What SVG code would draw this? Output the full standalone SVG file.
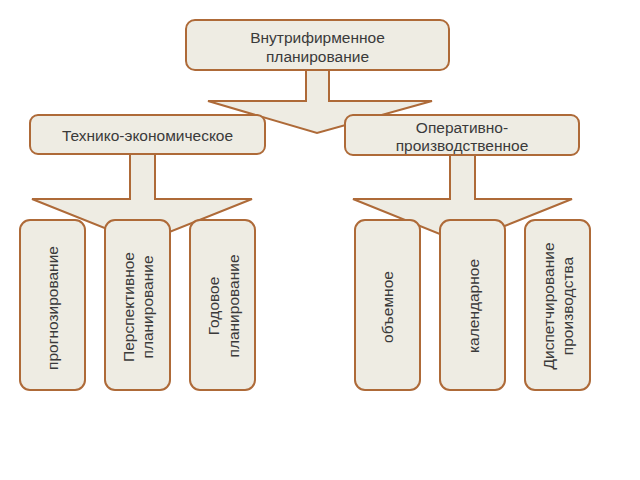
<svg xmlns="http://www.w3.org/2000/svg" width="640" height="480" viewBox="0 0 640 480">
<style>
.box{fill:#EEECE3;stroke:#AE6A38;stroke-width:2}
.arrow{fill:#EEECE3;stroke:#AE6A38;stroke-width:2;stroke-linejoin:miter}
text{font-family:"Liberation Sans",Arial,sans-serif;font-size:15.5px;fill:#3A3A3A;text-anchor:middle}
</style>
<rect width="640" height="480" fill="#FFFFFF"/>
<g id="connectors">
<polygon class="arrow" points="306,70 329,70 329,101 432,101 317,133 208,101 306,101"/>
<polygon class="arrow" points="130,154 155,154 155,199 252,199 142,243 32,199 130,199"/>
<polygon class="arrow" points="450,154 475,154 475,199 572,199 462,243 353,199 450,199"/>
</g>
<g id="node-top">
<rect class="box" x="186" y="20" width="263" height="50" rx="9"/>
<text x="317.5" y="42.5">Внутрифирменное</text>
<text x="317.5" y="61.5">планирование</text>
</g>
<g id="node-tech">
<rect class="box" x="30" y="115" width="235" height="39" rx="8"/>
<text x="147.5" y="140.5">Технико-экономическое</text>
</g>
<g id="node-oper">
<rect class="box" x="345" y="115" width="234" height="40" rx="8"/>
<text x="462" y="133">Оперативно-</text>
<text x="462" y="151">производственное</text>
</g>
<g id="node-prognoz">
<rect class="box" x="20" y="220" width="65" height="170" rx="10"/>
<text transform="translate(52.5,308) rotate(-90)" y="5">прогнозирование</text>
</g>
<g id="node-perspekt">
<rect class="box" x="105" y="220" width="65" height="170" rx="10"/>
<text transform="translate(137.5,307) rotate(-90)" y="-4">Перспективное</text>
<text transform="translate(137.5,307) rotate(-90)" y="15">планирование</text>
</g>
<g id="node-godovoe">
<rect class="box" x="190" y="220" width="65" height="170" rx="10"/>
<text transform="translate(222.5,306) rotate(-90)" y="-4">Годовое</text>
<text transform="translate(222.5,306) rotate(-90)" y="16">планирование</text>
</g>
<g id="node-obemnoe">
<rect class="box" x="355" y="220" width="65" height="170" rx="10"/>
<text transform="translate(387.5,307) rotate(-90)" y="5">объемное</text>
</g>
<g id="node-kalend">
<rect class="box" x="440" y="220" width="65" height="170" rx="10"/>
<text transform="translate(472.5,306) rotate(-90)" y="6">календарное</text>
</g>
<g id="node-dispetch">
<rect class="box" x="525" y="220" width="65" height="170" rx="10"/>
<text transform="translate(557.5,306) rotate(-90)" y="-4">Диспетчирование</text>
<text transform="translate(557.5,306) rotate(-90)" y="15">производства</text>
</g>
</svg>
